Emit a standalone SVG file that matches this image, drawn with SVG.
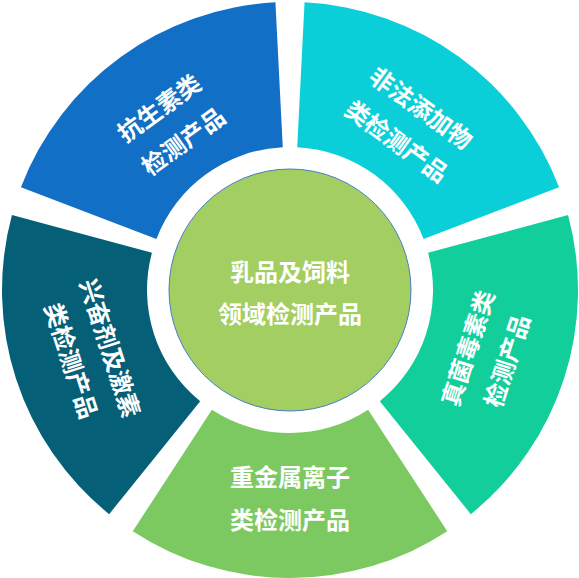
<svg xmlns="http://www.w3.org/2000/svg" width="579" height="578" viewBox="0 0 579 578">
<style>
.t{font-family:"Noto Sans CJK SC","Microsoft YaHei",sans-serif;font-size:24px;font-weight:bold;fill:#ffffff;text-anchor:middle;dominant-baseline:central}
</style>
<rect width="579" height="578" fill="#ffffff"/>
<g id="seg-antibiotics">
<path d="M20.95,187.26 A288,288 0 0 1 275.43,2.37 L282.77,147.18 A143,143 0 0 0 156.41,238.99 Z" fill="#1170C6"/>
<g transform="rotate(-36 170 123)">
<text class="t" x="170" y="103">抗生素类</text>
<text class="t" x="170" y="144">检测产品</text>
</g>
</g>
<g id="seg-additives">
<path d="M304.57,2.37 A288,288 0 0 1 559.05,187.26 L423.59,238.99 A143,143 0 0 0 297.23,147.18 Z" fill="#0BCFD8"/>
<g transform="rotate(36 410 123)">
<text class="t" x="410" y="103">非法添加物</text>
<text class="t" x="410" y="144">类检测产品</text>
</g>
</g>
<g id="seg-mycotoxins">
<path d="M568.06,214.97 A288,288 0 0 1 470.85,514.14 L379.80,401.29 A143,143 0 0 0 428.06,252.75 Z" fill="#12CE9A"/>
<g transform="rotate(-72 486 354)">
<text class="t" x="486" y="333.5">真菌毒素类</text>
<text class="t" x="486" y="374.5">检测产品</text>
</g>
</g>
<g id="seg-heavy-metals">
<path d="M447.28,531.26 A288,288 0 0 1 132.72,531.26 L211.91,409.79 A143,143 0 0 0 368.09,409.79 Z" fill="#7CC962"/>
<text class="t" x="290" y="475">重金属离子</text>
<text class="t" x="290" y="518">类检测产品</text>
</g>
<g id="seg-stimulants">
<path d="M109.15,514.14 A288,288 0 0 1 11.94,214.97 L151.94,252.75 A143,143 0 0 0 200.20,401.29 Z" fill="#045F77"/>
<g transform="rotate(72 92 354)">
<text class="t" x="92" y="333.5">兴奋剂及激素</text>
<text class="t" x="92" y="374.5">类检测产品</text>
</g>
</g>
<g id="center">
<circle cx="290" cy="290" r="121" fill="#A3CE62" stroke="#4A7EC4" stroke-width="1"/>
<text class="t" x="290" y="270">乳品及饲料</text>
<text class="t" x="290" y="312">领域检测产品</text>
</g>
</svg>
